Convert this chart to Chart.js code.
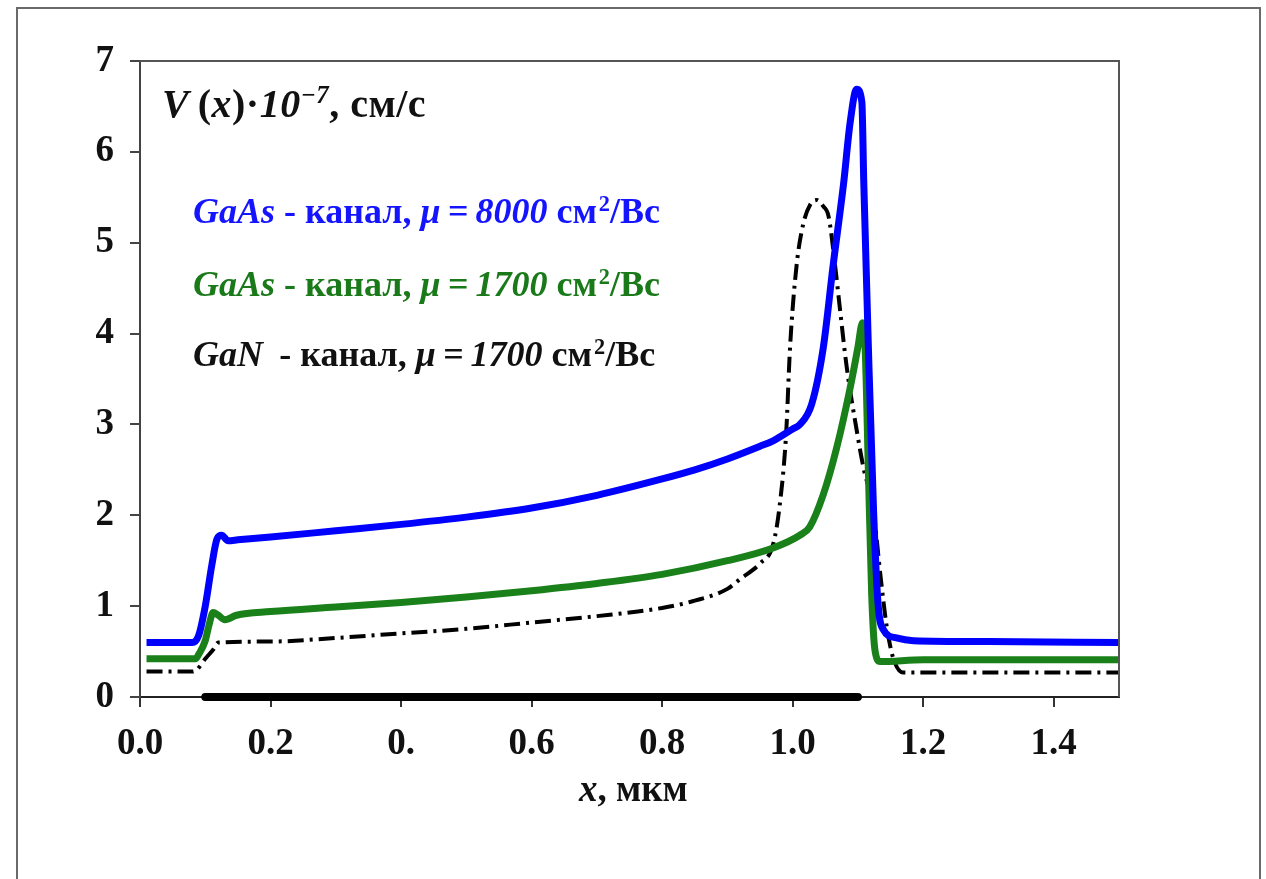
<!DOCTYPE html>
<html>
<head>
<meta charset="utf-8">
<script src="https://cdn.jsdelivr.net/npm/chart.js@4.4.1/dist/chart.umd.min.js"></script>
<style>
  html, body { margin: 0; padding: 0; background: #fff; }
  #wrap { position: relative; width: 1266px; height: 879px; overflow: hidden; }
  #c { position: absolute; left: 0; top: 0; }
  #frame { position: absolute; left: 16px; top: 7px; width: 1241px; height: 900px;
           border: 2px solid #6a6a6a; border-bottom: none; }
  .t { position: absolute; white-space: nowrap; font-family: 'Liberation Serif', 'Times New Roman', serif;
       font-weight: bold; line-height: 1; }
  .t sup { font-size: 62%; vertical-align: 0; position: relative; top: -0.55em; }
</style>
</head>
<body>
<div id="wrap">
  <div id="frame"></div>
  <canvas id="c" width="1266" height="879"></canvas>
  <div class="t" id="ann" style="left:162px; top:84px; font-size:40px; letter-spacing:0.5px; color:#111;"><i>V</i>&#8201;(<i>x</i>)·<i>10</i><sup><i>−7</i></sup>, см/с</div>
  <div class="t" id="l1" style="left:193px; top:193px; font-size:36px; color:#1414ff;"><i>GaAs</i> - канал, <i>μ&#8201;=&#8201;8000</i> см<sup>&#8202;2</sup>/Вс</div>
  <div class="t" id="l2" style="left:193px; top:266px; font-size:36px; color:#1a7a1a;"><i>GaAs</i> - канал, <i>μ&#8201;=&#8201;1700</i> см<sup>&#8202;2</sup>/Вс</div>
  <div class="t" id="l3" style="left:193px; top:336px; font-size:36px; color:#111;"><i>GaN</i>&#8201; - канал, <i>μ&#8201;=&#8201;1700</i> см<sup>&#8202;2</sup>/Вс</div>
  <div class="t" id="xt" style="left:579px; top:770px; font-size:37px; color:#111;"><i>x</i>, мкм</div>
</div>
<script>
// ---- data ----
const xTickValues = [0, 0.2, 0.4, 0.6, 0.8, 1.0, 1.2, 1.4];
const xTickLabels = ['0.0', '0.2', '0.', '0.6', '0.8', '1.0', '1.2', '1.4'];
const yTickValues = [0, 1, 2, 3, 4, 5, 6, 7];
const yTickLabels = ['0', '1', '2', '3', '4', '5', '6', '7'];

const xBlue = [0.01, 0.08, 0.09, 0.1, 0.11, 0.118, 0.125, 0.135, 0.15, 0.2, 0.3, 0.4, 0.5, 0.6, 0.7, 0.8, 0.85, 0.9, 0.95, 0.97, 1.0, 1.011, 1.029, 1.047, 1.062, 1.078, 1.088, 1.098, 1.106, 1.109, 1.116, 1.124, 1.131, 1.139, 1.159, 1.185, 1.3, 1.5];
const yBlue = [0.6, 0.6, 0.68, 1.0, 1.45, 1.74, 1.78, 1.72, 1.73, 1.76, 1.83, 1.9, 1.98, 2.08, 2.22, 2.4, 2.5, 2.62, 2.76, 2.82, 2.95, 3.0, 3.22, 3.85, 4.75, 5.65, 6.32, 6.69, 6.55, 5.65, 3.85, 2.04, 1.01, 0.74, 0.65, 0.62, 0.61, 0.6];

const xGreen = [0.01, 0.085, 0.09, 0.1, 0.106, 0.112, 0.12, 0.13, 0.148, 0.2, 0.3, 0.4, 0.5, 0.6, 0.7, 0.8, 0.9, 0.97, 1.011, 1.026, 1.047, 1.067, 1.088, 1.1, 1.107, 1.111, 1.116, 1.121, 1.126, 1.134, 1.2, 1.5];
const yGreen = [0.42, 0.42, 0.47, 0.62, 0.8, 0.93, 0.9, 0.85, 0.9, 0.94, 0.99, 1.04, 1.1, 1.17, 1.25, 1.35, 1.5, 1.64, 1.78, 1.87, 2.23, 2.73, 3.4, 3.85, 4.12, 3.85, 2.49, 1.14, 0.52, 0.39, 0.41, 0.41];

const xBlack = [0.01, 0.08, 0.087, 0.1, 0.112, 0.12, 0.2, 0.3, 0.4, 0.5, 0.6, 0.7, 0.8, 0.85, 0.9, 0.92, 0.95, 0.97, 0.98, 0.99, 0.996, 1.006, 1.016, 1.027, 1.037, 1.047, 1.055, 1.065, 1.072, 1.083, 1.098, 1.108, 1.124, 1.134, 1.144, 1.154, 1.169, 1.5];
const yBlack = [0.28, 0.28, 0.3, 0.42, 0.52, 0.6, 0.61, 0.65, 0.7, 0.75, 0.82, 0.89, 0.98, 1.06, 1.19, 1.3, 1.47, 1.68, 2.1, 2.9, 3.85, 4.75, 5.2, 5.42, 5.47, 5.4, 5.29, 4.75, 4.3, 3.62, 2.94, 2.54, 2.04, 1.37, 0.78, 0.43, 0.27, 0.27];

const xGate = [0.1, 1.1];
const yGate = [0, 0];

const pts = (xs, ys) => xs.map((x, i) => ({ x: x, y: ys[i] }));

const boxPlugin = {
  id: 'box',
  afterDatasetsDraw(chart) {
    const { ctx, chartArea: a } = chart;
    ctx.save();
    ctx.strokeStyle = '#555';
    ctx.lineWidth = 2;
    ctx.beginPath();
    ctx.moveTo(a.left, a.top);
    ctx.lineTo(a.right, a.top);
    ctx.lineTo(a.right, a.bottom);
    ctx.stroke();
    ctx.restore();
  }
};

const tickFont = { family: "'Liberation Serif', 'Times New Roman', serif", size: 37, weight: 'bold' };

new Chart(document.getElementById('c'), {
  type: 'line',
  data: {
    datasets: [
      { label: 'GaAs 8000', data: pts(xBlue, yBlue), borderColor: '#0000ff', borderWidth: 7,
        pointRadius: 0, cubicInterpolationMode: 'monotone', fill: false, clip: false },
      { label: 'GaAs 1700', data: pts(xGreen, yGreen), borderColor: '#1a801a', borderWidth: 7,
        pointRadius: 0, cubicInterpolationMode: 'monotone', fill: false, clip: false },
      { label: 'GaN 1700', data: pts(xBlack, yBlack), borderColor: '#000', borderWidth: 4,
        borderDash: [16, 6, 3, 6], pointRadius: 0, cubicInterpolationMode: 'monotone', fill: false, clip: false },
      { label: 'gate', data: pts(xGate, yGate), borderColor: '#000', borderWidth: 8,
        borderCapStyle: 'round', pointRadius: 0, fill: false, clip: false }
    ]
  },
  options: {
    responsive: false,
    animation: false,
    devicePixelRatio: 1,
    layout: { padding: { left: 0, right: 147, top: 61, bottom: 0 } },
    plugins: { legend: { display: false }, tooltip: { enabled: false }, title: { display: false } },
    scales: {
      x: {
        type: 'linear', min: 0, max: 1.5,
        afterFit(s) { s.height = 182; },
        afterBuildTicks(s) { s.ticks = xTickValues.map(v => ({ value: v })); },
        ticks: {
          autoSkip: false, maxRotation: 0, padding: 15, color: '#111', font: tickFont,
          callback: (v) => { const i = xTickValues.findIndex(t => Math.abs(t - v) < 1e-9); return i >= 0 ? xTickLabels[i] : ''; }
        },
        grid: { drawOnChartArea: false, drawTicks: true, tickLength: 10, color: '#333', lineWidth: 2 },
        border: { display: true, color: '#222', width: 2 }
      },
      y: {
        type: 'linear', min: 0, max: 7,
        afterFit(s) { s.width = 140; },
        afterBuildTicks(s) { s.ticks = yTickValues.map(v => ({ value: v })); },
        ticks: {
          autoSkip: false, padding: 16, color: '#111', font: tickFont,
          callback: (v) => { const i = yTickValues.indexOf(v); return i >= 0 ? yTickLabels[i] : ''; }
        },
        grid: { drawOnChartArea: false, drawTicks: true, tickLength: 10, color: '#444', lineWidth: 2 },
        border: { display: true, color: '#444', width: 2 }
      }
    }
  },
  plugins: [boxPlugin]
});
</script>
</body>
</html>
